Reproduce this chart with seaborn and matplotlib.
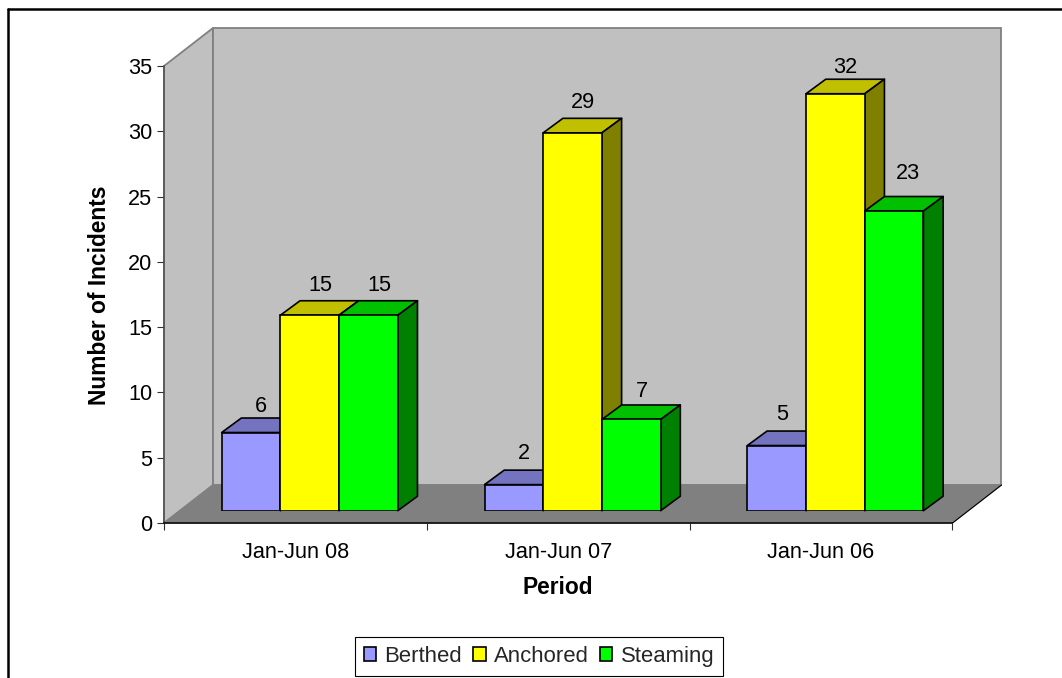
import matplotlib
matplotlib.use("Agg")
import matplotlib.pyplot as plt
from matplotlib.lines import Line2D
from matplotlib.patches import Polygon
import pandas as pd
import seaborn as sns

periods = ["Jan-Jun 08", "Jan-Jun 07", "Jan-Jun 06"]
berthed = [6, 2, 5]
anchored = [15, 29, 32]
steaming = [15, 7, 23]
conditions = ["Berthed", "Anchored", "Steaming"]
y_ticks = [0, 5, 10, 15, 20, 25, 30, 35]

front_colors = ["#9999FF", "#FFFF00", "#00FF00"]
top_colors = ["#7373BF", "#C0C000", "#00C000"]
side_colors = ["#4D4D80", "#808000", "#008000"]

W, H = 1062, 678
FONT = "Liberation Sans"
FS = 15.6
FS_BOLD = 16.4

sns.set_theme(style="white")
plt.rcParams["font.family"] = [FONT, "DejaVu Sans"]


def box(left, top, right, bottom):
    """Axes rectangle in figure fractions from pixel edges (y measured downward)."""
    return [left / W, 1 - bottom / H, (right - left) / W, (bottom - top) / H]


fig = plt.figure(figsize=(W / 100, H / 100), dpi=100, facecolor="white")

# Front plane of the chart box: carries the axes, ticks and labels
PL, PR, PT, PB = 164, 952.5, 66, 523
ax = fig.add_axes(box(PL, PT, PR, PB), facecolor="none")
ax.set_xlim(-0.5, 2.5)
ax.set_ylim(0, 35)
x_per_px = 3 / (PR - PL)
y_per_px = 35 / (PB - PT)

# Box depth in data units
ddx = 49 * x_per_px
ddy = 38 * y_per_px

# Back wall, side wall and floor
wall_kw = dict(facecolor="#C0C0C0", edgecolor="#808080", linewidth=1.3, clip_on=False, zorder=0.5)
ax.add_patch(Polygon([(-0.5, 0), (-0.5 + ddx, ddy), (-0.5 + ddx, 35 + ddy), (-0.5, 35)], **wall_kw))
ax.add_patch(Polygon([(-0.5 + ddx, ddy), (2.5 + ddx, ddy), (2.5 + ddx, 35 + ddy), (-0.5 + ddx, 35 + ddy)], **wall_kw))
ax.add_patch(Polygon([(-0.5, 0), (2.5, 0), (2.5 + ddx, ddy), (-0.5 + ddx, ddy)],
                     facecolor="#808080", edgecolor="#808080", linewidth=0.8, clip_on=False, zorder=0.6))
ax.plot([2.5, 2.5 + ddx], [0, ddy], color="black", lw=0.8, clip_on=False, zorder=0.7)

for name, spine in ax.spines.items():
    spine.set_visible(name in ("left", "bottom"))
    spine.set_linewidth(1.1)
ax.spines["left"].set_color("#505050")
ax.spines["bottom"].set_color("black")

ax.set_yticks(y_ticks)
ax.tick_params(axis="y", length=5, width=0.8, color="#303030", labelsize=FS, pad=3.5,
               labelcolor="black", left=True)
ax.set_xticks([-0.5, 0.5, 1.5, 2.5])
ax.set_xticklabels([])
ax.set_xticks([0, 1, 2], minor=True)
ax.set_xticklabels(periods, minor=True)
ax.tick_params(axis="x", which="major", length=5, width=0.8, color="#303030", bottom=True)
ax.tick_params(axis="x", which="minor", length=0, labelsize=FS, pad=13.5, labelcolor="black")

ax.set_ylabel("Number of Incidents", fontsize=FS_BOLD, fontweight="bold", color="black", va="center")
ax.yaxis.set_label_coords((99 - PL) / (PR - PL), (PB - 295) / (PB - PT))
ax.set_xlabel("Period", fontsize=FS_BOLD, fontweight="bold", color="black", va="center")
ax.xaxis.set_label_coords((558 - PL) / (PR - PL), (PB - 587) / (PB - PT))

# Bars stand partway into the box, so they get their own shifted axes
SHIFT_X, SHIFT_Y = 14.3, 12.3
UNIT_PX = 13.03
bar_ax = fig.add_axes(box(PL + SHIFT_X, PB - SHIFT_Y - 35 * UNIT_PX, PR + SHIFT_X, PB - SHIFT_Y), facecolor="none")

table = pd.DataFrame({
    "Period": periods * 3,
    "Condition": [c for c in conditions for _ in periods],
    "Incidents": berthed + anchored + steaming,
})
sns.barplot(data=table, x="Period", y="Incidents", hue="Condition", order=periods,
            hue_order=conditions, palette=front_colors, saturation=1, width=0.67, gap=0,
            edgecolor="black", linewidth=1.2, errorbar=None, ax=bar_ax)
handles, labels = bar_ax.get_legend_handles_labels()
bar_ax.get_legend().remove()
bar_ax.set_xlim(-0.5, 2.5)
bar_ax.set_ylim(0, 35)
bar_ax.set_axis_off()

# Depth of each bar in data units
bdx = 19.7 * x_per_px
bdy = 14.5 / UNIT_PX
edge_kw = dict(edgecolor="black", linewidth=1.2, clip_on=False, joinstyle="round")

# Hand adjustments for value labels that sit off the common offset, in points: (series, period)
label_nudge = {(0, 0): (0, -2.9), (0, 1): (0, 0.6), (0, 2): (-3.5, 0.6), (1, 1): (0.5, 0.4),
               (1, 2): (0, -2.4), (2, 1): (0.5, -1.2), (2, 2): (3, 5.3), (1, 0): (0.5, 0), (2, 0): (0.5, 0)}

for h, container in enumerate(bar_ax.containers):
    for g, bar in enumerate(container):
        x0, w, v = bar.get_x(), bar.get_width(), bar.get_height()
        x1 = x0 + w
        bar.set_zorder(3 + 2 * h)
        bar_ax.add_patch(Polygon([(x0, v), (x1, v), (x1 + bdx, v + bdy), (x0 + bdx, v + bdy)],
                                 facecolor=top_colors[h], zorder=2 + 2 * h, **edge_kw))
        bar_ax.add_patch(Polygon([(x1, 0), (x1 + bdx, bdy), (x1 + bdx, v + bdy), (x1, v)],
                                 facecolor=side_colors[h], zorder=2 + 2 * h, **edge_kw))
        nx, ny = label_nudge.get((h, g), (0, 0))
        bar_ax.annotate(f"{v:.0f}", (x0 + w / 2, v), xytext=(7.2 + nx, 21.5 + ny), textcoords="offset points",
                        ha="center", va="center", fontsize=FS, color="black", zorder=20,
                        annotation_clip=False)
bar_ax.set_xlim(-0.5, 2.5)
bar_ax.set_ylim(0, 35)

# Legend along the bottom edge
leg = fig.legend(handles, labels, ncol=3, loc="center", bbox_to_anchor=(539 / W, 1 - 656.5 / H),
                 fontsize=15.9, frameon=True, fancybox=False, edgecolor="black", framealpha=1,
                 handlelength=0.56, handleheight=0.56, handletextpad=0.38, columnspacing=0.5,
                 borderpad=0.4, borderaxespad=0)
leg.get_frame().set_linewidth(0.8)

# Chart-area border
for xs, ys in (([8, 8], [8.5, H]), ([8, W], [8.5, 8.5])):
    fig.add_artist(Line2D([x / W for x in xs], [1 - y / H for y in ys], color="black", lw=1.8,
                          transform=fig.transFigure))

fig.savefig("out.png", dpi=100, facecolor="white")
